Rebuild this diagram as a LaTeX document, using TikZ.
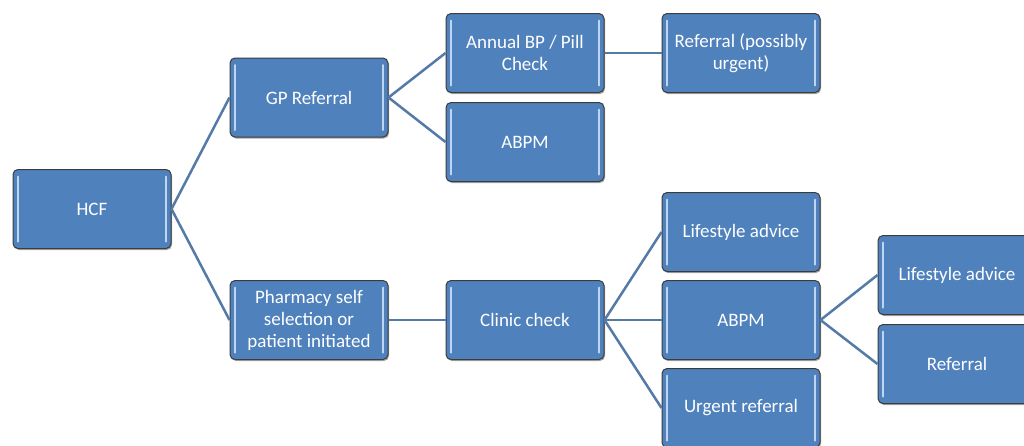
\documentclass[tikz,border=0pt]{standalone}
\usepackage{fontspec}
\setmainfont{Carlito}
\usetikzlibrary{shadows}
\definecolor{boxblue}{RGB}{79,129,189}
\definecolor{linkblue}{RGB}{84,122,168}
\definecolor{edgegray}{RGB}{60,60,60}
\definecolor{glint}{RGB}{190,214,242}
\tikzset{
  box/.style={rectangle, rounded corners=5pt, fill=boxblue, draw=edgegray, line width=1pt,
    minimum width=158pt, minimum height=79pt, inner sep=1pt, align=center, text=white,
    font=\fontsize{19}{22}\selectfont,
    drop shadow={shadow xshift=1pt, shadow yshift=-1.5pt, opacity=0.35, fill=black},
    path picture={
      \draw[glint, line width=2pt, line cap=round]
        ([xshift=5pt,yshift=-7pt]path picture bounding box.north west) --
        ([xshift=5pt,yshift=7pt]path picture bounding box.south west);
      \draw[glint, line width=2pt, line cap=round]
        ([xshift=-5pt,yshift=-7pt]path picture bounding box.north east) --
        ([xshift=-5pt,yshift=7pt]path picture bounding box.south east);
    }},
  link/.style={draw=linkblue, line width=2.5pt}
}
\begin{document}
\begin{tikzpicture}[x=1pt, y=-1pt]
\clip (0,0) rectangle (1024,445);
\fill[white] (0,0) rectangle (1024,445);
\node[box] (hcf) at (92,209) {HCF};
\node[box] (gp) at (309,97.5) {GP Referral};
\node[box] (annual) at (525,53) {Annual BP / Pill\\Check};
\node[box] (refposs) at (741,53) {Referral (possibly\\urgent)};
\node[box] (abpma) at (525,142) {ABPM};
\node[box] (pharm) at (309,320) {Pharmacy self\\selection or\\patient initiated};
\node[box] (clinic) at (525,320) {Clinic check};
\node[box] (lifea) at (741,232) {Lifestyle advice};
\node[box] (abpmb) at (741,320) {ABPM};
\node[box] (urgent) at (741,408) {Urgent referral};
\node[box] (lifeb) at (957,275) {Lifestyle advice};
\node[box] (refb) at (957,364) {Referral};
\draw[link] (hcf.east) -- (gp.west);
\draw[link] (hcf.east) -- (pharm.west);
\draw[link] (gp.east) -- (annual.west);
\draw[link] (gp.east) -- (abpma.west);
\draw[link] (annual.east) -- (refposs.west);
\draw[link] (pharm.east) -- (clinic.west);
\draw[link] (clinic.east) -- (lifea.west);
\draw[link] (clinic.east) -- (abpmb.west);
\draw[link] (clinic.east) -- (urgent.west);
\draw[link] (abpmb.east) -- (lifeb.west);
\draw[link] (abpmb.east) -- (refb.west);
\end{tikzpicture}
\end{document}
